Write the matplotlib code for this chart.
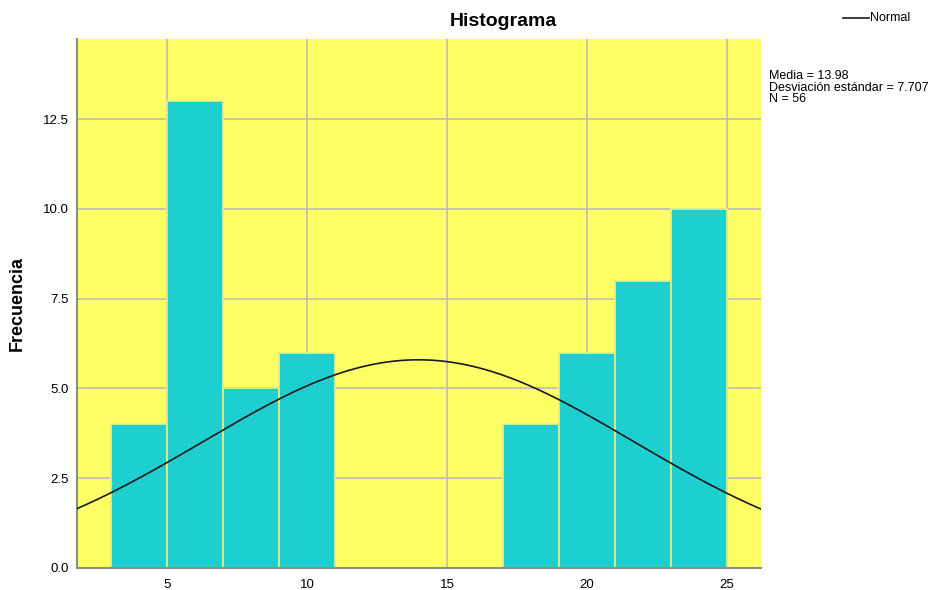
import numpy as np
import matplotlib.pyplot as plt

plt.rcParams['font.family'] = ['Liberation Sans', 'DejaVu Sans']

# histogram bins (edges) and counts
bin_edges = [3, 5, 7, 9, 11, 13, 15, 17, 19, 21, 23, 25]
counts = [4, 13, 5, 6, 0, 0, 0, 4, 6, 8, 10]
media = 13.98
desv = 7.707
n = 56

fig = plt.figure(figsize=(9.37, 5.90), dpi=100)
ax = fig.add_axes([77 / 937, 22 / 590, (761 - 77) / 937, (568 - 39) / 590])
ax.set_facecolor('#ffff66')

widths = np.diff(bin_edges)
ax.bar(bin_edges[:-1], counts, width=widths, align='edge',
       color='#1ecfcf', edgecolor='#e6f08a', linewidth=1.2, zorder=2)

# normal curve scaled to counts
xs = np.linspace(1.77, 26.23, 300)
bw = widths[0]
ys = n * bw / (desv * np.sqrt(2 * np.pi)) * np.exp(-0.5 * ((xs - media) / desv) ** 2)
ax.plot(xs, ys, color='#1a1a1a', linewidth=1.2, zorder=3)

ax.set_xlim(1.77, 26.23)
ax.set_ylim(0, 14.73)
ax.set_xticks([5, 10, 15, 20, 25])
ax.set_yticks([0, 2.5, 5, 7.5, 10, 12.5])
ax.set_yticklabels(['0.0', '2.5', '5.0', '7.5', '10.0', '12.5'])
ax.grid(True, color='#bdbdb0', linewidth=1.2, zorder=1)
ax.set_axisbelow(True)
ax.tick_params(axis='x', length=0, labelsize=9.5, pad=8)
ax.tick_params(axis='y', length=0, labelsize=9.5, pad=6)

for s in ['top', 'right']:
    ax.spines[s].set_visible(False)
for s in ['left', 'bottom']:
    ax.spines[s].set_color('#8c8c8c')
    ax.spines[s].set_linewidth(1.5)

fig.text(503 / 937, 1 - 22 / 590, 'Histograma', fontsize=14, fontweight='bold',
         ha='center', va='center')
ax.set_ylabel('Frecuencia', fontsize=13, fontweight='bold', labelpad=12)

# legend and stats in the right margin
fig.lines.append(plt.Line2D([843 / 937, 869 / 937], [1 - 18 / 590, 1 - 18 / 590],
                            color='#1a1a1a', linewidth=1.2, transform=fig.transFigure))
fig.text(870 / 937, 1 - 18 / 590, 'Normal', fontsize=9, va='center', ha='left')
fig.text(769 / 937, 1 - 70 / 590,
         f'Media = {media}\nDesviación estándar = {desv}\nN = {n}',
         fontsize=9, va='top', ha='left', linespacing=0.95)

fig.savefig('out.png', dpi=100)
